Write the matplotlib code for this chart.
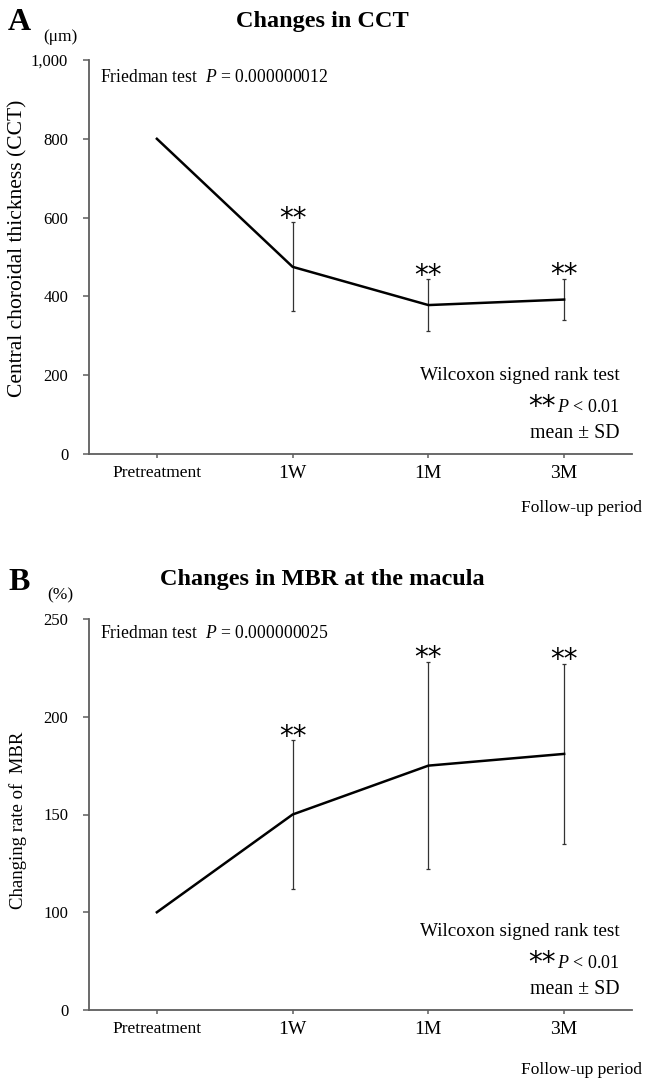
import matplotlib
matplotlib.use('Agg')
import matplotlib.pyplot as plt
import numpy as np

# ---------------- data ----------------
categories = ['Pretreatment', '1W', '1M', '3M']
cct_mean = [800, 475, 378, 392]
cct_sd = [np.nan, 113, 65, 52]
mbr_mean = [100, 150, 175, 181]
mbr_sd = [np.nan, 38, 53, 46]
cct_yticks = [0, 200, 400, 600, 800, 1000]
cct_yticklabels = ['0', '200', '400', '600', '800', '1,000']
mbr_yticks = [50, 100, 150, 200, 250]
mbr_yticklabels = ['0', '100', '150', '200', '250']

plt.rcParams['font.family'] = ['Liberation Serif', 'DejaVu Serif']
plt.rcParams['mathtext.fontset'] = 'custom'
plt.rcParams['mathtext.rm'] = 'Liberation Serif'
plt.rcParams['mathtext.it'] = 'Liberation Serif:italic'

W, H = 646, 1079
fig = plt.figure(figsize=(W / 100, H / 100), dpi=100)


def fx(px):
    return px / W


def fy(py):
    return 1 - py / H


spine_col = '#5e5e5e'
star_font = dict(family='DejaVu Sans', fontsize=20)


def make_panel(top_px, bot_px, mean, sd, yticks, ylabels, ylim, ylabel,
               ylab_size, letter, title, unit, friedman, letter_y, title_y,
               unit_y, fried_y, ylab_y, wil_y, xlab_y):
    left_px, right_px = 89, 632
    ax = fig.add_axes([fx(left_px), fy(bot_px), (right_px - left_px) / W,
                       (bot_px - top_px) / H])
    x = np.arange(len(categories))
    ax.plot(x, mean, color='black', lw=1.8, zorder=3)
    ax.errorbar(x, mean, yerr=sd, fmt='none', ecolor='#333333',
                elinewidth=0.9, capsize=1.6, capthick=0.9, zorder=2)
    for i in range(1, len(categories)):
        ax.annotate('**', xy=(x[i], mean[i] + sd[i]), xytext=(0, -7.5),
                    textcoords='offset points', ha='center', va='bottom',
                    **star_font)
    ax.set_xlim(-0.5, len(categories) - 0.5)
    ax.set_ylim(*ylim)
    ax.set_yticks(yticks)
    ax.set_yticklabels(ylabels, fontsize=12)
    ax.set_xticks(x)
    ax.set_xticklabels(categories, fontsize=14)
    ax.get_xticklabels()[0].set_fontsize(12.5)
    for s in ['top', 'right']:
        ax.spines[s].set_visible(False)
    for s in ['left', 'bottom']:
        ax.spines[s].set_color(spine_col)
        ax.spines[s].set_linewidth(1.3)
    ax.tick_params(axis='y', direction='out', length=4, width=1.1,
                   color=spine_col, pad=11)
    ax.tick_params(axis='x', direction='out', length=3, width=1.1,
                   color=spine_col, pad=5)
    fig.text(fx(18), fy(ylab_y), ylabel, rotation=90, ha='center',
             va='center', fontsize=ylab_size)

    fig.text(fx(8), fy(letter_y), letter, fontsize=23, fontweight='bold',
             ha='left', va='center')
    fig.text(fx(322), fy(title_y), title, fontsize=17.5, fontweight='bold',
             ha='center', va='center')
    fig.text(fx(60), fy(unit_y), unit, fontsize=12.5, ha='center',
             va='center')
    fig.text(fx(100), fy(fried_y), friedman, fontsize=12.7, ha='left',
             va='center')
    fig.text(fx(620), fy(wil_y), 'Wilcoxon signed rank test', fontsize=13.8,
             ha='right', va='center')
    fig.text(fx(620), fy(wil_y + 31), r'$P$ < 0.01', fontsize=13,
             ha='right', va='center')
    fig.text(fx(556), fy(wil_y + 31), '**', ha='right', va='center',
             **star_font)
    fig.text(fx(620), fy(wil_y + 57), 'mean ± SD', fontsize=14.3,
             ha='right', va='center')
    fig.text(fx(642), fy(xlab_y), 'Follow-up period', fontsize=12.5,
             ha='right', va='center')
    return ax


make_panel(60, 454, cct_mean, cct_sd, cct_yticks, cct_yticklabels,
           (0, 1000), 'Central choroidal thickness (CCT)', 15.5,
           'A', 'Changes in CCT', '(μm)',
           r'Friedman test  $P$ = 0.000000012',
           letter_y=22, title_y=22, unit_y=37, fried_y=77, ylab_y=248,
           wil_y=376, xlab_y=508)

make_panel(619, 1010, mbr_mean, mbr_sd, mbr_yticks, mbr_yticklabels,
           (50, 250), 'Changing rate of  MBR', 13.5,
           'B', 'Changes in MBR at the macula', '(%)',
           r'Friedman test  $P$ = 0.000000025',
           letter_y=582, title_y=579, unit_y=595, fried_y=634, ylab_y=820,
           wil_y=932, xlab_y=1070)

fig.savefig('out.png', dpi=100)
